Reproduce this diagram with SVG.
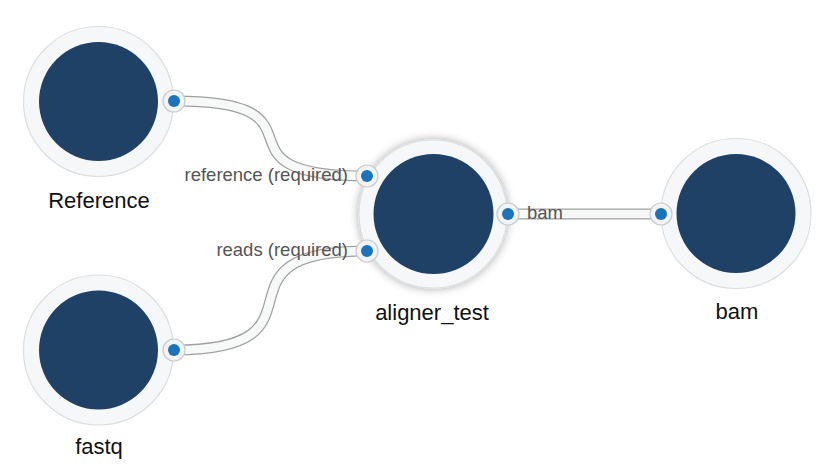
<svg xmlns="http://www.w3.org/2000/svg" width="828" height="476" viewBox="0 0 828 476">
<defs>
<filter id="glow" x="-30%" y="-30%" width="160%" height="160%">
<feGaussianBlur in="SourceAlpha" stdDeviation="5"/>
<feComponentTransfer><feFuncA type="linear" slope="0.35"/></feComponentTransfer>
<feMerge><feMergeNode/><feMergeNode in="SourceGraphic"/></feMerge>
</filter>
</defs>
<style>
.ring{fill:#f6f7f8;stroke:#dcdee0;stroke-width:1.2}
.core{fill:#1f4166}
.pout{fill:#f2f3f4;stroke:#c9cbcd;stroke-width:1.2}
.pin{fill:#1b74bb}
.edgeO{fill:none;stroke:#a0a0a0;stroke-width:11}
.edgeI{fill:none;stroke:#f7f8f8;stroke-width:8.5}
.name{font-family:"Liberation Sans",Arial,sans-serif;font-size:22px;fill:#111;text-anchor:middle}
.plabel{font-family:"Liberation Sans",Arial,sans-serif;font-size:18.5px;fill:#555}
</style>
<rect width="828" height="476" fill="#fff"/>
<g id="connectors">
<path class="edgeO" d="M174,101 C340,101 200,176 367,176"/>
<path class="edgeI" d="M174,101 C340,101 200,176 367,176"/>
<path class="edgeO" d="M174,350 C340,350 200,251 367,251"/>
<path class="edgeI" d="M174,350 C340,350 200,251 367,251"/>
<path class="edgeO" d="M509,214 L661,214"/>
<path class="edgeI" d="M509,214 L661,214"/>
</g>
<g id="node-reference">
<circle class="ring" cx="98.5" cy="101.5" r="75"/>
<circle class="core" cx="98.5" cy="101.5" r="59.5"/>
<circle class="pout" cx="174" cy="101" r="11"/>
<circle class="pin" cx="174" cy="101" r="6"/>
<text class="name" x="99" y="208">Reference</text>
</g>
<g id="node-fastq">
<circle class="ring" cx="98.5" cy="350" r="75"/>
<circle class="core" cx="98.5" cy="350" r="59.5"/>
<circle class="pout" cx="174" cy="350" r="11"/>
<circle class="pin" cx="174" cy="350" r="6"/>
<text class="name" x="99" y="454">fastq</text>
</g>
<g id="node-aligner_test">
<circle class="ring" cx="433" cy="214" r="74" filter="url(#glow)"/>
<circle class="core" cx="433.5" cy="214" r="60"/>
<text class="plabel" x="348" y="181" text-anchor="end">reference (required)</text>
<text class="plabel" x="348" y="256" text-anchor="end">reads (required)</text>
<text class="plabel" x="527" y="219">bam</text>
<circle class="pout" cx="367" cy="176" r="11"/>
<circle class="pin" cx="367" cy="176" r="6"/>
<circle class="pout" cx="367" cy="251" r="11"/>
<circle class="pin" cx="367" cy="251" r="6"/>
<circle class="pout" cx="508" cy="214" r="11"/>
<circle class="pin" cx="508" cy="214" r="6"/>
<text class="name" x="432" y="320">aligner_test</text>
</g>
<g id="node-bam">
<circle class="ring" cx="736" cy="213.5" r="75"/>
<circle class="core" cx="736" cy="213.5" r="59.5"/>
<circle class="pout" cx="661" cy="214" r="11"/>
<circle class="pin" cx="661" cy="214" r="6"/>
<text class="name" x="737" y="319">bam</text>
</g>
</svg>
